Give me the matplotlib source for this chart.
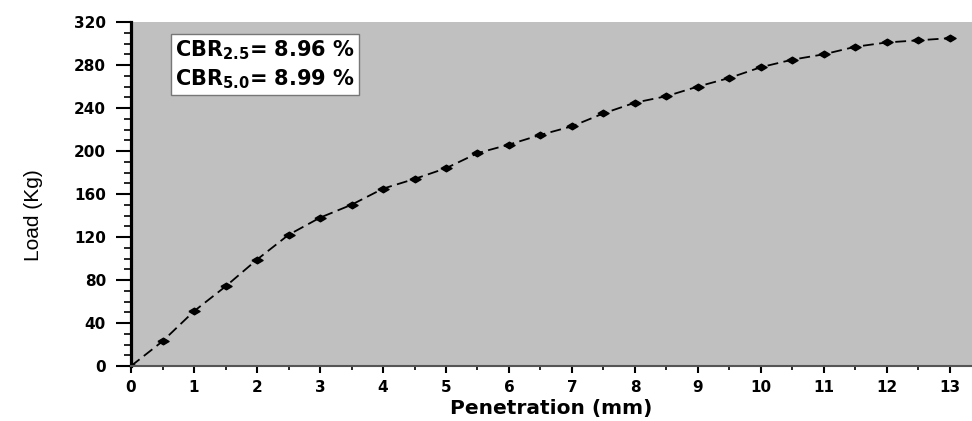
import matplotlib
matplotlib.use('Agg')
import matplotlib.pyplot as plt
from matplotlib.ticker import MultipleLocator

# penetration (mm) and load (Kg)
penetration = [0, 0.5, 1, 1.5, 2, 2.5, 3, 3.5, 4, 4.5, 5, 5.5, 6, 6.5,
               7, 7.5, 8, 8.5, 9, 9.5, 10, 10.5, 11, 11.5, 12, 12.5, 13]
load = [0, 23, 51, 74, 99, 122, 138, 150, 165, 174, 184, 198, 206, 215,
        223, 235, 245, 251, 260, 268, 278, 285, 290, 297, 301, 303, 305]

cbr_25 = 8.96
cbr_50 = 8.99

plt.rcParams['font.family'] = ['DejaVu Sans']
plt.rcParams['mathtext.default'] = 'bf'

fig = plt.figure(figsize=(9.72, 4.21), dpi=100)
ax = fig.add_axes([0.1348, 0.1306, 0.8652, 0.8171])
ax.set_facecolor('#c0c0c0')

# flattened diamond, the original picture is stretched sideways
diamond = [(-1, 0), (0, 0.6), (1, 0), (0, -0.6), (-1, 0)]
ax.plot(penetration, load, color='black', linestyle=(0, (6, 3)), linewidth=1.3,
        marker=diamond, markersize=8, markerfacecolor='black', markeredgecolor='black')

ax.set_xlim(0, 13.35)
ax.set_ylim(0, 320)
ax.xaxis.set_major_locator(MultipleLocator(1))
ax.xaxis.set_minor_locator(MultipleLocator(0.5))
ax.yaxis.set_major_locator(MultipleLocator(40))
ax.yaxis.set_minor_locator(MultipleLocator(10))

ax.spines['top'].set_visible(False)
ax.spines['right'].set_visible(False)
ax.spines['left'].set_linewidth(2.3)
ax.spines['left'].set_color('black')
ax.spines['bottom'].set_linewidth(1.5)
ax.spines['bottom'].set_color('#555555')

ax.tick_params(axis='y', which='major', direction='out', length=11, width=1.5,
               colors='black', labelsize=11, pad=7)
ax.tick_params(axis='y', which='minor', direction='out', length=5, width=1.2, colors='black')
ax.tick_params(axis='x', which='major', direction='out', length=5, width=1.5,
               colors='black', labelsize=11, pad=5)
ax.tick_params(axis='x', which='minor', direction='out', length=3, width=1.2, colors='black')
for lab in ax.get_xticklabels() + ax.get_yticklabels():
    lab.set_fontweight('bold')

ax.set_xlabel('Penetration (mm)', fontsize=14.5, fontweight='bold', labelpad=3)
ax.set_ylabel('Load (Kg)', fontsize=15, family=['Liberation Sans', 'DejaVu Sans'])
ax.yaxis.set_label_coords(-0.105, 0.44)

txt = (r'CBR$_{2.5}$= ' + f'{cbr_25:.2f} %\n' +
       r'CBR$_{5.0}$= ' + f'{cbr_50:.2f} %')
ax.text(0.052, 0.953, txt, transform=ax.transAxes, fontsize=15, fontweight='bold',
        va='top', ha='left', linespacing=1.3,
        bbox=dict(boxstyle='square,pad=0.2', facecolor='white', edgecolor='#777777',
                  linewidth=1))

fig.savefig('out.png', dpi=100)
